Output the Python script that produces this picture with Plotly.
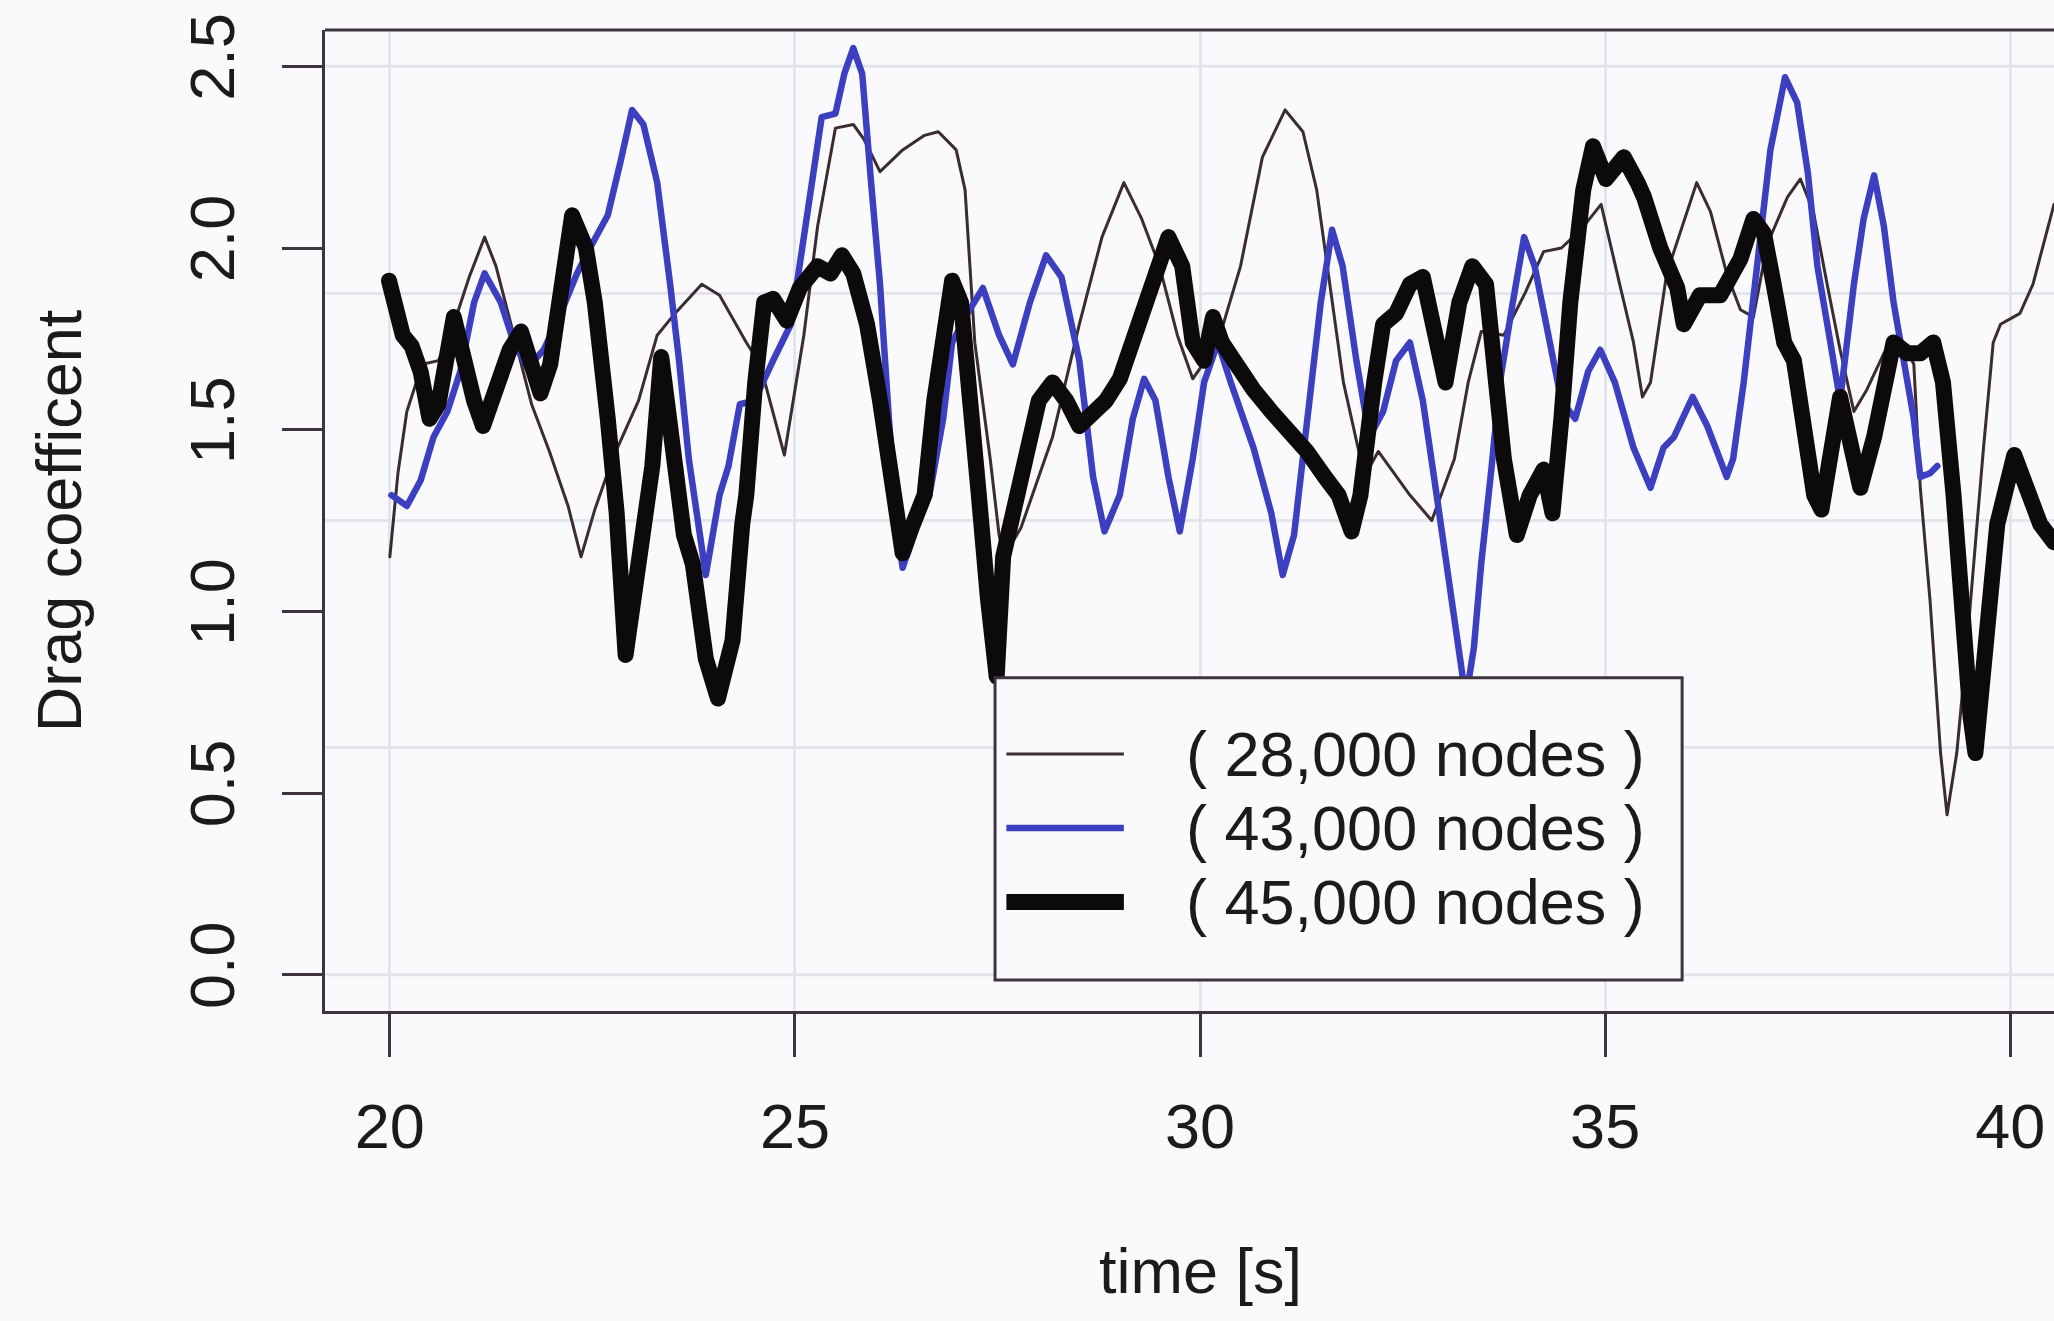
import plotly.graph_objects as go

# ---- drag coefficient time series (read from the recorded runs) ----
t_28k = [20.0, 20.1, 20.21, 20.4, 20.6, 20.76, 20.98, 21.17, 21.31, 21.53, 21.75, 21.97,
         22.2, 22.36, 22.53, 22.75, 23.07, 23.3, 23.52, 23.85, 24.07, 24.4, 24.57, 24.87,
         25.11, 25.28, 25.5, 25.72, 25.85, 26.05, 26.33, 26.6, 26.77, 26.99, 27.1, 27.22,
         27.41, 27.52, 27.58, 27.79, 28.18, 28.51, 28.79, 29.06, 29.28, 29.5, 29.72, 29.91,
         30.22, 30.5, 30.77, 31.05, 31.27, 31.44, 31.6, 31.77, 31.98, 32.1, 32.2, 32.59,
         32.86, 33.14, 33.31, 33.47, 33.75, 34.02, 34.24, 34.46, 34.7, 34.95, 35.18, 35.35,
         35.46, 35.56, 35.76, 36.13, 36.3, 36.5, 36.67, 36.83, 37.0, 37.25, 37.41, 37.57,
         37.74, 37.9, 38.07, 38.23, 38.44, 38.56, 38.68, 38.81, 38.89, 39.01, 39.14, 39.22,
         39.34, 39.47, 39.59, 39.67, 39.79, 39.88, 40.12, 40.28, 40.54]
cd_28k = [1.15, 1.38, 1.55, 1.68, 1.69, 1.77, 1.92, 2.03, 1.95, 1.76, 1.57, 1.44,
          1.29, 1.15, 1.28, 1.42, 1.58, 1.76, 1.82, 1.90, 1.87, 1.74, 1.68, 1.43,
          1.76, 2.06, 2.33, 2.34, 2.30, 2.21, 2.27, 2.31, 2.32, 2.27, 2.16, 1.74,
          1.42, 1.21, 1.15, 1.23, 1.48, 1.79, 2.03, 2.18, 2.08, 1.95, 1.76, 1.64,
          1.74, 1.95, 2.25, 2.38, 2.32, 2.16, 1.90, 1.63, 1.42, 1.40, 1.44, 1.32,
          1.25, 1.42, 1.63, 1.77, 1.76, 1.88, 1.99, 2.00, 2.05, 2.12, 1.90, 1.74,
          1.59, 1.63, 1.93, 2.18, 2.10, 1.93, 1.83, 1.81, 2.01, 2.14, 2.19, 2.10,
          1.90, 1.72, 1.55, 1.61, 1.71, 1.74, 1.74, 1.68, 1.34, 1.03, 0.61, 0.44,
          0.61, 0.92, 1.24, 1.45, 1.74, 1.79, 1.82, 1.90, 2.12]

t_43k = [20.02, 20.21, 20.38, 20.54, 20.71, 20.87, 21.04, 21.17, 21.37, 21.53, 21.7, 21.9,
         22.09, 22.31, 22.47, 22.69, 22.85, 22.99, 23.13, 23.3, 23.46, 23.57, 23.69, 23.85,
         23.9, 24.07, 24.18, 24.32, 24.5, 24.73, 24.95, 25.17, 25.33, 25.5, 25.61, 25.72,
         25.83, 25.94, 26.05, 26.16, 26.27, 26.33, 26.55, 26.66, 26.83, 26.94, 27.13, 27.32,
         27.52, 27.69, 27.9, 28.1, 28.29, 28.51, 28.68, 28.82, 29.01, 29.17, 29.31, 29.45,
         29.61, 29.75, 29.91, 30.05, 30.22, 30.38, 30.66, 30.88, 31.02, 31.16, 31.32, 31.49,
         31.63, 31.76, 31.93, 32.09, 32.26, 32.42, 32.59, 32.75, 32.92, 33.09, 33.18, 33.28,
         33.38, 33.47, 33.6, 33.7, 33.86, 34.0, 34.13, 34.3, 34.46, 34.63, 34.79, 34.94,
         35.12, 35.35, 35.56, 35.72, 35.85, 36.08, 36.26, 36.5, 36.58, 36.71, 36.87, 37.04,
         37.22, 37.37, 37.5, 37.62, 37.78, 37.9, 38.07, 38.19, 38.32, 38.44, 38.56, 38.68,
         38.81, 38.89, 39.01, 39.1]
cd_43k = [1.32, 1.29, 1.36, 1.48, 1.55, 1.66, 1.85, 1.93, 1.85, 1.74, 1.67, 1.72,
          1.81, 1.93, 2.00, 2.09, 2.24, 2.38, 2.34, 2.18, 1.90, 1.69, 1.42, 1.16,
          1.10, 1.32, 1.40, 1.57, 1.58, 1.69, 1.79, 2.12, 2.36, 2.37, 2.48, 2.55,
          2.48, 2.18, 1.90, 1.53, 1.21, 1.12, 1.27, 1.32, 1.53, 1.74, 1.82, 1.89,
          1.76, 1.68, 1.85, 1.98, 1.92, 1.69, 1.37, 1.22, 1.32, 1.53, 1.64, 1.58,
          1.37, 1.22, 1.42, 1.63, 1.74, 1.63, 1.45, 1.27, 1.10, 1.21, 1.53, 1.85,
          2.05, 1.95, 1.69, 1.48, 1.55, 1.69, 1.74, 1.58, 1.32, 1.04, 0.90, 0.76,
          0.90, 1.13, 1.40, 1.63, 1.85, 2.03, 1.95, 1.76, 1.58, 1.53, 1.66, 1.72,
          1.63, 1.45, 1.34, 1.45, 1.48, 1.59, 1.51, 1.37, 1.42, 1.63, 1.95, 2.27,
          2.47, 2.40, 2.21, 1.95, 1.74, 1.58, 1.90, 2.08, 2.20, 2.06, 1.85, 1.69,
          1.53, 1.37, 1.38, 1.40]

t_45k = [19.99, 20.07, 20.16, 20.27, 20.38, 20.49, 20.6, 20.79, 20.9, 21.04, 21.15, 21.31,
         21.48, 21.62, 21.7, 21.86, 21.98, 22.14, 22.25, 22.42, 22.53, 22.69, 22.8, 22.91,
         23.07, 23.24, 23.35, 23.46, 23.63, 23.74, 23.9, 24.05, 24.23, 24.35, 24.4, 24.51,
         24.62, 24.73, 24.9, 25.06, 25.28, 25.44, 25.58, 25.72, 25.89, 26.05, 26.22, 26.33,
         26.44, 26.6, 26.72, 26.83, 26.94, 27.05, 27.16, 27.27, 27.38, 27.49, 27.57, 27.74,
         27.9, 28.01, 28.18, 28.35, 28.51, 28.68, 28.84, 29.01, 29.17, 29.33, 29.5, 29.61,
         29.78, 29.91, 30.05, 30.16, 30.27, 30.44, 30.66, 30.88, 31.1, 31.32, 31.54, 31.71,
         31.87, 31.98, 32.15, 32.26, 32.42, 32.59, 32.75, 32.92, 33.03, 33.2, 33.36, 33.53,
         33.64, 33.75, 33.91, 34.07, 34.24, 34.35, 34.46, 34.57, 34.73, 34.85, 35.01, 35.23,
         35.4, 35.48, 35.68, 35.89, 35.97, 36.17, 36.42, 36.67, 36.83, 36.96, 37.08, 37.21,
         37.33, 37.46, 37.58, 37.67, 37.83, 37.9, 38.07, 38.15, 38.32, 38.44, 38.56, 38.73,
         38.89, 39.05, 39.17, 39.3, 39.38, 39.51, 39.57, 39.67, 39.84, 40.05, 40.2, 40.37,
         40.54]
cd_45k = [1.91, 1.82, 1.76, 1.73, 1.66, 1.53, 1.57, 1.81, 1.70, 1.58, 1.51, 1.61,
          1.72, 1.77, 1.71, 1.60, 1.68, 1.95, 2.09, 2.00, 1.85, 1.53, 1.27, 0.88,
          1.13, 1.40, 1.70, 1.53, 1.21, 1.13, 0.87, 0.76, 0.92, 1.24, 1.32, 1.63,
          1.85, 1.86, 1.80, 1.89, 1.95, 1.93, 1.98, 1.93, 1.79, 1.58, 1.32, 1.16,
          1.23, 1.32, 1.58, 1.79, 1.91, 1.85, 1.63, 1.32, 1.04, 0.82, 1.15, 1.32,
          1.48, 1.58, 1.63, 1.58, 1.51, 1.55, 1.58, 1.64, 1.74, 1.87, 1.97, 2.03,
          1.95, 1.74, 1.69, 1.81, 1.74, 1.68, 1.61, 1.55, 1.50, 1.44, 1.37, 1.32,
          1.22, 1.32, 1.63, 1.79, 1.82, 1.90, 1.92, 1.76, 1.63, 1.85, 1.95, 1.90,
          1.69, 1.42, 1.21, 1.32, 1.39, 1.27, 1.53, 1.85, 2.16, 2.28, 2.19, 2.25,
          2.18, 2.14, 2.00, 1.89, 1.79, 1.87, 1.87, 1.97, 2.08, 2.04, 1.90, 1.74,
          1.69, 1.48, 1.32, 1.28, 1.53, 1.59, 1.42, 1.34, 1.48, 1.63, 1.74, 1.71,
          1.71, 1.74, 1.63, 1.32, 1.03, 0.71, 0.61, 0.87, 1.24, 1.43, 1.34, 1.24,
          1.19]

series_names = ["( 28,000 nodes )", "( 43,000 nodes )", "( 45,000 nodes )"]
x_ticks = [20, 25, 30, 35, 40]
y_ticks = [0.0, 0.5, 1.0, 1.5, 2.0, 2.5]
y_grid = [0.0, 0.625, 1.25, 1.875, 2.5]

# ---- styling ----
BG = "#fafafd"
FRAME = "#3e3440"
TEXT = "#1c1a1c"
FONT = "Liberation Sans, Arial, Helvetica, sans-serif"
FS = 63
styles = [
    dict(color="#3a2c30", width=3),
    dict(color="#3c3fbf", width=6.5),
    dict(color="#0c0a0a", width=16),
]

fig = go.Figure()
for t, cd, name, st in zip([t_28k, t_43k, t_45k], [cd_28k, cd_43k, cd_45k],
                           series_names, styles):
    fig.add_trace(go.Scatter(x=t, y=cd, mode="lines", name=name, line=st,
                             showlegend=False, hoverinfo="skip"))

X0, X1 = 19.2, 40.54
Y0, Y1 = -0.1, 2.6

shapes = []
# faint horizontal grid
for g in y_grid:
    shapes.append(dict(type="line", xref="paper", yref="y", x0=0, x1=1, y0=g, y1=g,
                       line=dict(color="#e4e4ec", width=3), layer="below"))
# top edge of the plot box
shapes.append(dict(type="line", xref="paper", yref="paper", x0=0, x1=1, y0=1, y1=1,
                   line=dict(color=FRAME, width=3), layer="above"))

# legend box with line samples
lg_x0, lg_x1, lg_y0, lg_y1 = 27.47, 35.95, -0.015, 0.817
shapes.append(dict(type="rect", xref="x", yref="y", x0=lg_x0, x1=lg_x1, y0=lg_y0, y1=lg_y1,
                   fillcolor=BG, line=dict(color=FRAME, width=3), layer="above"))
row_y = [0.607, 0.404, 0.200]
annotations = []
for ry, name, st in zip(row_y, series_names, styles):
    shapes.append(dict(type="line", xref="x", yref="y", x0=27.61, x1=29.06, y0=ry, y1=ry,
                       line=dict(color=st["color"], width=st["width"]), layer="above"))
    annotations.append(dict(x=29.80, y=ry, xref="x", yref="y", text=name, showarrow=False,
                            xanchor="left", yanchor="middle",
                            font=dict(family=FONT, size=FS, color=TEXT)))

# axis titles
annotations.append(dict(x=30, y=-0.265, xref="x", yref="paper", yanchor="middle",
                        text="time [s]", showarrow=False,
                        font=dict(family=FONT, size=FS, color=TEXT)))
annotations.append(dict(x=-0.154, y=1.25, xref="paper", yref="y", xanchor="center",
                        yanchor="middle", text="Drag coefficent", textangle=-90,
                        showarrow=False, font=dict(family=FONT, size=FS, color=TEXT)))

fig.update_layout(
    width=2054, height=1321,
    margin=dict(l=325, r=0, t=30, b=310, pad=0),
    paper_bgcolor=BG, plot_bgcolor=BG,
    font=dict(family=FONT, size=FS, color=TEXT),
    shapes=shapes, annotations=annotations,
    showlegend=False,
)
fig.update_xaxes(range=[X0, X1], tickvals=x_ticks, ticktext=[str(v) for v in x_ticks],
                 ticks="outside", ticklen=43, tickwidth=3, tickcolor=FRAME,
                 showline=True, linecolor=FRAME, linewidth=3,
                 showgrid=True, gridcolor="#e4e4ec", gridwidth=3, zeroline=False,
                 ticklabelstandoff=15, tickfont=dict(family=FONT, size=FS, color=TEXT))
fig.update_yaxes(range=[Y0, Y1], tickvals=y_ticks, ticktext=[f"{v:.1f}" for v in y_ticks],
                 tickangle=-90, ticks="outside", ticklen=40, tickwidth=3, tickcolor=FRAME,
                 showline=True, linecolor=FRAME, linewidth=3,
                 showgrid=False, zeroline=False,
                 ticklabelstandoff=23, tickfont=dict(family=FONT, size=FS, color=TEXT))

# round line joins, as in the original plotting device
post = """
document.querySelectorAll('.scatterlayer path.js-line').forEach(function(p){
  p.style.strokeLinejoin = 'round';
  p.style.strokeLinecap = 'round';
});
"""
fig.write_html("out.html", post_script=post)
